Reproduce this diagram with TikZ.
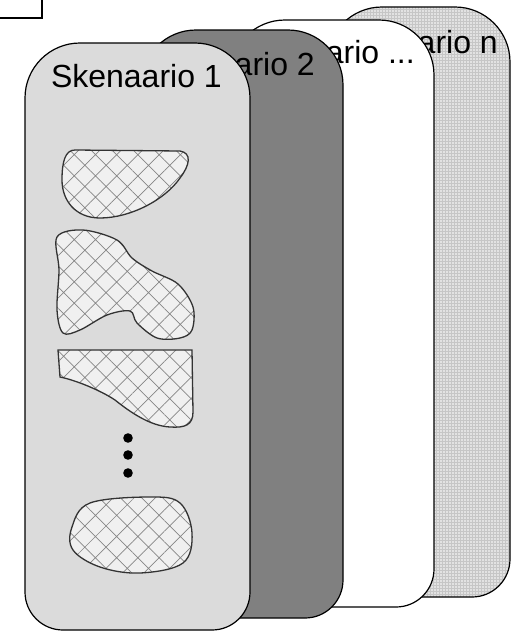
\documentclass[tikz,border=0pt]{standalone}
\usepackage{fontspec}
\setmainfont{Liberation Sans}
\usetikzlibrary{patterns.meta}
\tikzset{
  cardbox/.style={inner sep=0pt, outer sep=0pt},
  cardline/.style={draw=black, line width=1.2pt},
  lbl/.style={anchor=base east, inner sep=0pt, font=\fontsize{32}{36}\selectfont},
  blob/.style={draw=black!80, line width=1.3pt, preaction={fill=gray!12},
    pattern={Hatch[angle=45,distance=15pt,line width=0.7pt]}, pattern color=gray!95},
  dotfill/.style={preaction={fill=gray!45}, pattern={Dots[distance=3pt,radius=0.8pt]}, pattern color=white}
}
\newcommand{\cardpath}[2]{%
  \path[cardline,#2] (#1.west) [rounded corners=55pt] -- (#1.north west) -- (#1.north east) -- (#1.east)
    [rounded corners=38pt] -- (#1.south east) -- (#1.south west) -- cycle;}
\begin{document}
\begin{tikzpicture}[x=1pt,y=-1pt]
\useasboundingbox (0,0) rectangle (513,632);
\fill[white] (0,0) rectangle (513,632);
% partial box top-left
\coordinate (tl1) at (0,18);
\coordinate (tl2) at (42,18);
\coordinate (tl3) at (42,0);
\draw[line width=1.2pt] (tl1) -- (tl2) -- (tl3);
% card n
\node[cardbox, minimum width=183pt, minimum height=590pt] (cn) at (418.5,302) {};
\cardpath{cn}{dotfill}
\node[lbl] (ln) at (498,53) {Skenaario n};
% card ...
\node[cardbox, minimum width=204pt, minimum height=587pt] (cd) at (332,313.5) {};
\cardpath{cd}{fill=white}
\node[lbl] (ld) at (415,63) {Skenaario ...};
% card 2
\node[cardbox, minimum width=202pt, minimum height=588pt] (c2) at (242,324) {};
\cardpath{c2}{fill=gray}
\node[lbl] (l2) at (315,75) {Skenaario 2};
% card 1
\node[cardbox, minimum width=225pt, minimum height=587pt] (c1) at (137.5,336.5) {};
\cardpath{c1}{fill=gray!28}
\node[lbl] (l1) at (222,87) {Skenaario 1};
% blobs
\draw[blob] (75,150) -- (180,151) .. controls (192,153) and (190,165) .. (180,178)
  .. controls (165,200) and (130,218) .. (100,218) .. controls (75,218) and (62,200) .. (62,180)
  .. controls (62,162) and (65,150) .. (75,150) -- cycle;
\draw[blob] plot[smooth cycle, tension=0.55] coordinates {(57,237) (83,230) (117,240) (132,258) (152,271) (178,284) (193,307) (192,330) (180,338) (157,338) (137,323) (130,311) (107,315) (80,330) (63,333) (57,310) (59,270)};
\draw[blob] (58,350) -- (192,350) -- (193,412) .. controls (193,425) and (185,428) .. (170,427)
  .. controls (150,426) and (130,412) .. (115,400) .. controls (100,390) and (75,380) .. (60,377) -- cycle;
\draw[blob] plot[smooth cycle, tension=0.6] coordinates {(72,527) (90,503) (150,497) (180,503) (192,533) (183,563) (140,573) (100,567) (73,550)};
% dots
\foreach \yy [count=\i] in {438,455,473} {
  \fill (128,\yy) circle (4.8pt) coordinate (dot\i);
}
\end{tikzpicture}
\end{document}
